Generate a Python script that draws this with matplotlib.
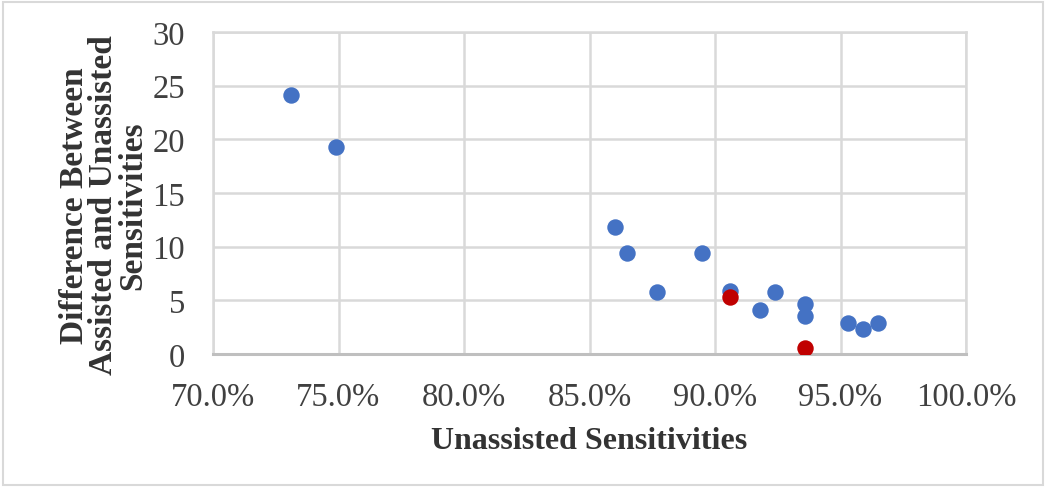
import matplotlib
matplotlib.use("Agg")
import matplotlib.pyplot as plt
from matplotlib.ticker import FuncFormatter
from matplotlib.patches import Rectangle

# Data (unassisted sensitivity %, difference)
blue_x = [73.1, 74.9, 86.0, 86.5, 89.5, 87.7, 90.6, 91.8, 92.4, 93.6, 93.6, 95.3, 95.9, 96.5]
blue_y = [24.1, 19.3, 11.8, 9.4, 9.4, 5.8, 5.9, 4.1, 5.8, 4.7, 3.5, 2.9, 2.3, 2.9]
red_x = [90.6, 93.6]
red_y = [5.3, 0.55]

x_ticks = [70, 75, 80, 85, 90, 95, 100]
y_ticks = [0, 5, 10, 15, 20, 25, 30]

plt.rcParams['font.family'] = ['Liberation Serif', 'DejaVu Serif']

fig = plt.figure(figsize=(10.46, 4.89), dpi=100)
ax = fig.add_axes([213/1046, 1-355/489, (966-213)/1046, (355-33)/489])

grid_c = '#D9D9D9'
ax.scatter(blue_x, blue_y, s=140, color='#4472C4', zorder=3, linewidths=0)
ax.scatter(red_x, red_y, s=140, color='#C00000', zorder=4, linewidths=0)

ax.set_xlim(70, 100)
ax.set_ylim(0, 30)
ax.set_xticks(x_ticks)
ax.set_yticks(y_ticks)
ax.xaxis.set_major_formatter(FuncFormatter(lambda v, p: f"{v:.1f}%"))
ax.grid(True, color=grid_c, linewidth=1.8, zorder=0)
ax.set_axisbelow(True)
for s in ['top', 'right', 'left']:
    ax.spines[s].set_color(grid_c)
    ax.spines[s].set_linewidth(1.8)
ax.spines['bottom'].set_color('#BFBFBF')
ax.spines['bottom'].set_linewidth(2.2)
ax.tick_params(axis='both', length=0, labelsize=23.5, labelcolor='#404040')
ax.tick_params(axis='x', pad=20)
ax.tick_params(axis='y', pad=20)

ax.set_xlabel('Unassisted Sensitivities', fontsize=23, fontweight='bold',
              color='#333333', labelpad=10)
ax.set_ylabel('Difference Between\nAssisted and Unassisted\nSensitivities',
              fontsize=24, fontweight='bold', color='#333333',
              labelpad=3, linespacing=0.92)
ax.yaxis.label.set_y(0.465)

fig.patches.append(Rectangle((3/1046, 3/489), 1-6/1046, 1-6/489,
                             transform=fig.transFigure, fill=False,
                             edgecolor='#D9D9D9', linewidth=1.5))

fig.savefig('out.png', dpi=100)
